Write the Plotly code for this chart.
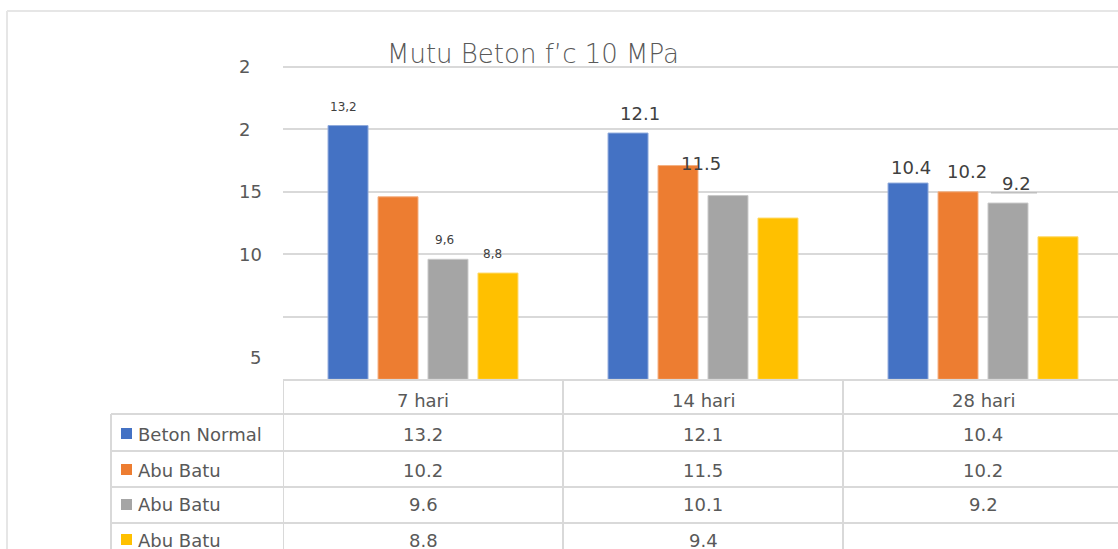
import plotly.graph_objects as go

# ---------------- data ----------------
categories = ["7 hari", "14 hari", "28 hari"]
series_names = ["Beton Normal", "Abu Batu", "Abu Batu", "Abu Batu"]
series_colors = ["#4472C4", "#ED7D31", "#A5A5A5", "#FFC000"]
series_edges = ["#8FAADC", "#F4B183", "#C9C9C9", "#FFD966"]

# bar heights as drawn on the value axis
beton_normal_bar = [20.3, 19.7, 15.7]
abu_batu_1_bar = [14.6, 17.1, 15.0]
abu_batu_2_bar = [9.6, 14.7, 14.1]
abu_batu_3_bar = [8.5, 12.9, 11.4]

# values shown in the data table
beton_normal_tbl = ["13.2", "12.1", "10.4"]
abu_batu_1_tbl = ["10.2", "11.5", "10.2"]
abu_batu_2_tbl = ["9.6", "10.1", "9.2"]
abu_batu_3_tbl = ["8.8", "9.4", ""]

# data labels over the bars (None = no label)
beton_normal_lbl = ["13,2", "12.1", "10.4"]
abu_batu_1_lbl = [None, "11.5", "10.2"]
abu_batu_2_lbl = ["9,6", None, "9.2"]
abu_batu_3_lbl = ["8,8", None, None]

y_tickvals = [5, 10, 15, 20, 25]
y_ticktext = ["", "10", "15", "2\u2007", "2\u2007"]
title_text = "Mutu Beton f\u2019c 10 MPa"

bars = [beton_normal_bar, abu_batu_1_bar, abu_batu_2_bar, abu_batu_3_bar]
tbl = [beton_normal_tbl, abu_batu_1_tbl, abu_batu_2_tbl, abu_batu_3_tbl]
lbls = [beton_normal_lbl, abu_batu_1_lbl, abu_batu_2_lbl, abu_batu_3_lbl]

# ---------------- layout geometry (pixels of 1118x549 canvas) ----------------
W, H = 1118, 549
def px(x):
    return x / W
def py(y):
    return 1 - y / H

plot_left, plot_bottom, plot_top = 283, 379.3, 40
unit_px = 12.5
cat_px = 280
bargap = 0.286
slot = (1 - bargap) / 4

FONT = "DejaVu Sans"
GRID = "#D9D9D9"
TXT = "#595959"

fig = go.Figure()
for i in range(4):
    fig.add_trace(go.Bar(
        x=categories, y=bars[i], name=series_names[i],
        marker=dict(color=series_colors[i], line=dict(color=series_edges[i], width=1)),
        showlegend=False, hoverinfo="skip",
    ))

annotations = []
shapes = []

# title
annotations.append(dict(text=title_text, xref="paper", yref="paper", x=px(533), y=py(54),
                        xanchor="center", yanchor="middle", showarrow=False,
                        font=dict(family=FONT, size=26, color=TXT, weight=300)))

# stray "5" axis label
annotations.append(dict(text="5", xref="paper", yref="y", x=px(263), y=(plot_bottom - 357) / unit_px,
                        xanchor="right", yanchor="middle", showarrow=False,
                        font=dict(family=FONT, size=18, color=TXT)))

# data labels: per-label style (font size, xshift, yshift)
lbl_style = {
    (0, 0): (12, -5, 19), (0, 1): (18, 12, 20), (0, 2): (18, 3, 16),
    (1, 1): (18, 23, 2), (1, 2): (18, 9, 20),
    (2, 0): (12, -3, 19), (2, 2): (18, 9, 20),
    (3, 0): (12, -5, 19),
}
for i in range(4):
    for j in range(3):
        t = lbls[i][j]
        if t is None:
            continue
        fs, xs, ys = lbl_style[(i, j)]
        annotations.append(dict(text=t, xref="x", yref="y", x=j + (i - 1.5) * slot, y=bars[i][j],
                                xanchor="center", yanchor="middle", xshift=xs, yshift=ys,
                                showarrow=False,
                                font=dict(family=FONT, size=fs, color="#404040")))
# little underline under the 28-hari grey label
g_x = 2 + 0.5 * slot
shapes.append(dict(type="line", xref="x", yref="y",
                   x0=g_x - 17 / cat_px, x1=g_x + 29 / cat_px,
                   y0=bars[2][2] + 10.4 / unit_px, y1=bars[2][2] + 10.4 / unit_px,
                   line=dict(color="#BFBFBF", width=1.5)))

# outer chart border
shapes.append(dict(type="line", xref="paper", yref="paper", x0=px(7), x1=1.01, y0=py(11), y1=py(11),
                   line=dict(color="#E6E6E6", width=2)))
shapes.append(dict(type="line", xref="paper", yref="paper", x0=px(7), x1=px(7), y0=py(11), y1=-0.01,
                   line=dict(color="#E6E6E6", width=2)))

# ---------------- data table ----------------
row_lines = [380, 414, 451, 487, 523]
row_centers = [400, 434, 470, 505, 540]
tbl_line = dict(color=GRID, width=2)
# header top line (only over data columns)
shapes.append(dict(type="line", xref="x", yref="paper", x0=-0.5, x1=3, y0=py(row_lines[0]), y1=py(row_lines[0]), line=tbl_line))
for yl in row_lines[1:]:
    shapes.append(dict(type="line", xref="paper", yref="paper", x0=px(111), x1=1.01, y0=py(yl), y1=py(yl), line=tbl_line))
# vertical lines
shapes.append(dict(type="line", xref="paper", yref="paper", x0=px(111), x1=px(111), y0=py(414), y1=-0.01, line=tbl_line))
for k in range(len(categories)):
    xv = k - 0.5
    shapes.append(dict(type="line", xref="x", yref="paper", x0=xv, x1=xv, y0=py(380), y1=-0.01, line=tbl_line))

TBL_FONT = dict(family=FONT, size=18, color=TXT)
for j, c in enumerate(categories):
    annotations.append(dict(text=c, xref="x", yref="paper", x=j, y=py(row_centers[0]),
                            xanchor="center", yanchor="middle", showarrow=False, font=TBL_FONT))
for i in range(4):
    yc = py(row_centers[i + 1])
    shapes.append(dict(type="rect", xref="paper", yref="paper",
                       x0=px(121), x1=px(132), y0=py(row_centers[i + 1] - 6), y1=py(row_centers[i + 1] + 5),
                       fillcolor=series_colors[i], line=dict(width=0)))
    annotations.append(dict(text=series_names[i], xref="paper", yref="paper", x=px(136), y=yc,
                            xanchor="left", yanchor="middle", showarrow=False, font=TBL_FONT))
    for j in range(3):
        if tbl[i][j]:
            annotations.append(dict(text=tbl[i][j], xref="x", yref="paper", x=j, y=yc,
                                    xanchor="center", yanchor="middle", showarrow=False, font=TBL_FONT))

y_top_val = (plot_bottom - plot_top) / unit_px
fig.update_layout(
    width=W, height=H,
    margin=dict(l=0, r=0, t=0, b=0),
    paper_bgcolor="white", plot_bgcolor="white",
    barmode="group", bargap=bargap, bargroupgap=0.2,
    xaxis=dict(domain=[px(plot_left), 1], range=[-0.5, -0.5 + (W - plot_left) / cat_px],
               showticklabels=False, showgrid=False, zeroline=False, showline=False, fixedrange=True),
    yaxis=dict(domain=[py(plot_bottom), py(plot_top)], range=[0, y_top_val],
               tickvals=y_tickvals, ticktext=y_ticktext, ticks="", ticklabelstandoff=20,
               tickfont=dict(family=FONT, size=18, color=TXT),
               showgrid=True, gridcolor=GRID, gridwidth=1.5, zeroline=False, showline=False,
               fixedrange=True),
    annotations=annotations,
    shapes=shapes,
    font=dict(family=FONT),
)

fig.write_html("out.html", config={"displayModeBar": False},
               post_script="document.body.style.margin='0';document.body.style.overflow='hidden';")
